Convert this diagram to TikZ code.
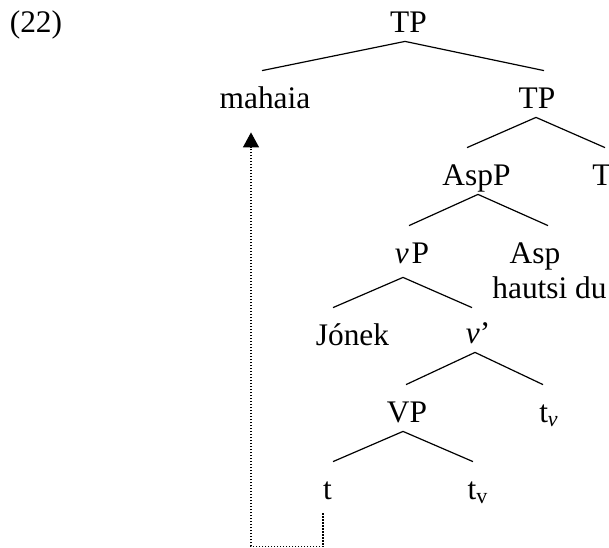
\documentclass[tikz,border=0pt]{standalone}
\usepackage{fontspec}
\setmainfont{Liberation Serif}
\usetikzlibrary{calc,arrows.meta}
\begin{document}
\begin{tikzpicture}[x=0.5pt,y=-0.5pt,
  lab/.style={inner sep=0pt, anchor=base, text height=18.5pt, text depth=4.5pt, font=\fontsize{15.7}{17.5}\selectfont},
  branch/.style={line width=0.6pt},
  move/.style={line width=0.6pt, dash pattern=on 0.6pt off 0.9pt, -{Triangle[length=7.5pt,width=8pt]}}]
\useasboundingbox (0,0) rectangle (609,547);
\node[lab] (ex) at (36,32) {(22)};
\node[lab] (tp1) at (408.5,32) {TP};
\node[lab] (mah) at (265,108) {mahaia};
\node[lab] (tp2) at (537,108) {TP};
\node[lab] (aspp) at (476.5,185) {AspP};
\node[lab] (t0) at (602,185) {T};
\node[lab] (vp) at (412,263) {\textit{v}\kern1.5pt P};
\node[lab] (asp) at (535,263) {Asp};
\node[lab] (hd) at (549.5,298) {hautsi du};
\node[lab] (jon) at (352.5,345) {Jónek};
\node[lab] (vbar) at (478,343) {\textit{v}’};
\node[lab] (VP) at (407,422) {VP};
\node[lab] (tv1) at (549,422) {t\textsubscript{\textit{v}}};
\node[lab] (tr) at (327.5,499) {t};
\node[lab] (tv2) at (478,499) {t\textsubscript{v}};
\draw[branch] ($(tp1.south)+(-3.5,0)$) -- ($(mah.north)+(-3,0)$);
\draw[branch] ($(tp1.south)+(-3.5,0)$) -- ($(tp2.north)+(7,0)$);
\draw[branch] ($(tp2.south)+(-1,0)$) -- ($(aspp.north)+(-9.5,0)$);
\draw[branch] ($(tp2.south)+(-1,0)$) -- ($(t0.north)+(3,0)$);
\draw[branch] ($(aspp.south)+(1.5,0)$) -- ($(vp.north)+(-3,0)$);
\draw[branch] ($(aspp.south)+(1.5,0)$) -- ($(asp.north)+(13,0)$);
\draw[branch] ($(vp.south)+(-9,5)$) -- ($(jon.north)+(-19.5,0)$);
\draw[branch] ($(vp.south)+(-9,5)$) -- ($(vbar.north)+(-6,2)$);
\draw[branch] ($(vbar.south)+(-3,0)$) -- ($(VP.north)+(-1,0)$);
\draw[branch] ($(vbar.south)+(-3,0)$) -- ($(tv1.north)+(-6,0)$);
\draw[branch] ($(VP.south)+(-4,0)$) -- ($(tr.north)+(5.5,0)$);
\draw[branch] ($(VP.south)+(-4,0)$) -- ($(tv2.north)+(-5,0)$);
\draw[move] ($(tr.south)+(-4.5,5)$) -- ++(0,33) -| ($(mah.south)+(-14,15)$);
\end{tikzpicture}
\end{document}
